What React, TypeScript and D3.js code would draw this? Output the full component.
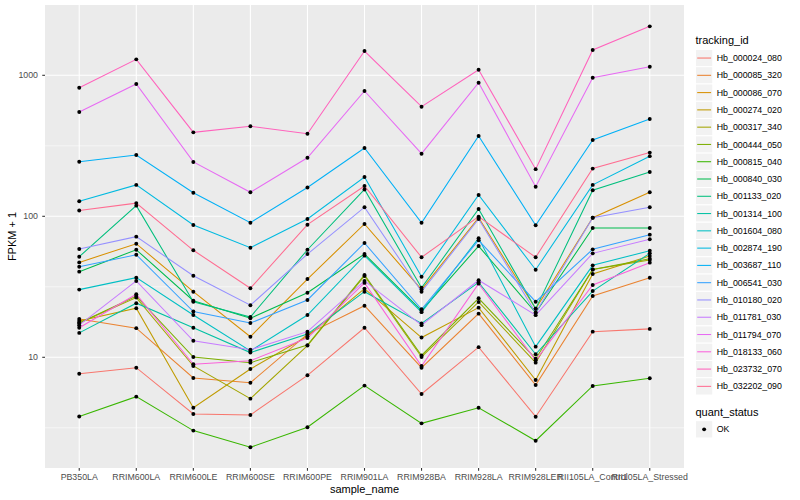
import React from 'react';
import * as d3 from 'd3';

// sample order on the x axis
const samples = ['PB350LA', 'RRIM600LA', 'RRIM600LE', 'RRIM600SE', 'RRIM600PE', 'RRIM901LA',
  'RRIM928BA', 'RRIM928LA', 'RRIM928LER', 'RII105LA_Control', 'RII105LA_Stressed'];

// FPKM + 1 per tracking id, one value per sample
const Hb_000024_080 = [7.65, 8.44, 3.96, 3.9, 7.45, 16.2, 5.49, 11.8, 3.79, 15.2, 15.9];
const Hb_000085_320 = [18.7, 16.1, 7.13, 6.6, 14.6, 23.2, 8.44, 20.4, 6.36, 27.2, 36.7];
const Hb_000086_070 = [47.1, 63.9, 29.2, 14.0, 35.9, 88.2, 30.2, 97.8, 22.1, 97.7, 148];
const Hb_000274_020 = [18.1, 22.3, 4.39, 8.26, 14.1, 30.7, 13.8, 22.5, 6.9, 39.0, 52.3];
const Hb_000317_340 = [17.5, 26.5, 8.68, 5.09, 12.1, 37.7, 10.05, 24.7, 9.16, 41.9, 48.9];
const Hb_000444_050 = [17.5, 27.2, 10.05, 9.16, 12.2, 38.4, 10.3, 26.2, 9.77, 41.9, 50.0];
const Hb_000815_040 = [3.8, 5.26, 3.02, 2.3, 3.19, 6.3, 3.4, 4.39, 2.56, 6.26, 7.1];
const Hb_000840_030 = [40.5, 57.9, 25.2, 18.9, 28.7, 54.0, 21.4, 61.5, 20.7, 82.6, 82.6];
const Hb_001133_020 = [51.7, 119, 24.8, 19.3, 57.9, 155, 31.1, 112.7, 22.1, 153, 206];
const Hb_001314_100 = [14.9, 24.2, 16.2, 10.8, 14.6, 29.2, 17.4, 34.0, 10.5, 29.5, 54.6];
const Hb_001604_080 = [30.2, 36.7, 19.95, 11.1, 19.95, 52.6, 20.9, 69.8, 11.9, 44.9, 57.0];
const Hb_002874_190 = [128, 167, 86.8, 59.9, 95.7, 190, 37.3, 141.6, 41.8, 167, 267];
const Hb_003687_110 = [244, 272, 147, 90.1, 160, 305, 90, 371, 86.3, 348, 490];
const Hb_006541_030 = [43.9, 53.4, 21.1, 17.5, 25.5, 64.7, 21.9, 67.6, 24.8, 58.3, 74.1];
const Hb_010180_020 = [58.6, 71.7, 37.9, 23.4, 54.0, 116, 29.2, 95.7, 20.7, 97.7, 116];
const Hb_011781_030 = [16.9, 34.8, 13.1, 11.3, 15.2, 34.8, 16.9, 35.2, 19.9, 54.6, 68.7];
const Hb_011794_070 = [549, 867, 243, 148, 260, 774, 278, 886, 162, 961, 1151];
const Hb_018133_060 = [16.2, 28.0, 8.92, 9.46, 13.7, 33.7, 8.68, 33.3, 9.52, 32.6, 46.9];
const Hb_023732_070 = [817, 1298, 394, 435, 385, 1487, 599, 1096, 216, 1512, 2225];
const Hb_032202_090 = [110, 124, 57.4, 30.9, 87.2, 164, 51.2, 99.4, 51.2, 218, 283];

const trackingIds = ['Hb_000024_080', 'Hb_000085_320', 'Hb_000086_070', 'Hb_000274_020', 'Hb_000317_340',
  'Hb_000444_050', 'Hb_000815_040', 'Hb_000840_030', 'Hb_001133_020', 'Hb_001314_100', 'Hb_001604_080',
  'Hb_002874_190', 'Hb_003687_110', 'Hb_006541_030', 'Hb_010180_020', 'Hb_011781_030', 'Hb_011794_070',
  'Hb_018133_060', 'Hb_023732_070', 'Hb_032202_090'];

const seriesValues = [Hb_000024_080, Hb_000085_320, Hb_000086_070, Hb_000274_020, Hb_000317_340,
  Hb_000444_050, Hb_000815_040, Hb_000840_030, Hb_001133_020, Hb_001314_100, Hb_001604_080,
  Hb_002874_190, Hb_003687_110, Hb_006541_030, Hb_010180_020, Hb_011781_030, Hb_011794_070,
  Hb_018133_060, Hb_023732_070, Hb_032202_090];

const yTicks = [10, 100, 1000];
const yMinor = [Math.sqrt(10), Math.sqrt(1000), Math.sqrt(100000)];
const statusLevels = ['OK'];

// ggplot default hue palette for 20 levels
const hue = ['#F8766D', '#EA8331', '#D89000', '#C09B00', '#A3A500', '#7CAE00', '#39B600', '#00BB4E',
  '#00BF7D', '#00C1A3', '#00BFC4', '#00BAE0', '#00B0F6', '#35A2FF', '#9590FF', '#C77CFF', '#E76BF3',
  '#FA62DB', '#FF62BC', '#FF6C91'];

const W = 800, H = 500;
const panel = { left: 45, right: 684, top: 5, bottom: 468 };
const font = '"Liberation Sans", Arial, Helvetica, sans-serif';

const App = () => {
  const x = d3.scalePoint<string>().domain(samples).range([panel.left, panel.right]).padding(0.6);
  const y = d3.scaleLog().domain([1.64, 3152]).range([panel.bottom, panel.top]);
  const color = d3.scaleOrdinal<string, string>().domain(trackingIds).range(hue);

  const line = d3.line<number>()
    .x((_, i) => x(samples[i]) as number)
    .y((d) => y(d));

  const keySize = 17.28;
  const legX = 695.5;
  const legTop = 49.4;

  return (
    <svg width={W} height={H} style={{ position: 'absolute', left: 0, top: 0, background: '#fff' }}
      fontFamily={font}>
      <rect x={0} y={0} width={W} height={H} fill="#fff" />
      {/* panel */}
      <rect x={panel.left} y={panel.top} width={panel.right - panel.left} height={panel.bottom - panel.top} fill="#EBEBEB" />
      {yMinor.filter((v) => y(v) > panel.top).map((v) => (
        <line key={'mn' + v} x1={panel.left} x2={panel.right} y1={y(v)} y2={y(v)} stroke="#fff" strokeWidth={0.55} />
      ))}
      {yTicks.map((v) => (
        <line key={'mj' + v} x1={panel.left} x2={panel.right} y1={y(v)} y2={y(v)} stroke="#fff" strokeWidth={1.07} />
      ))}
      {samples.map((s) => (
        <line key={'gx' + s} x1={x(s)} x2={x(s)} y1={panel.top} y2={panel.bottom} stroke="#fff" strokeWidth={1.07} />
      ))}

      {/* lines */}
      {seriesValues.map((vals, i) => (
        <path key={'l' + i} d={line(vals) || ''} fill="none" stroke={color(trackingIds[i])} strokeWidth={1.05} />
      ))}
      {/* points */}
      {seriesValues.map((vals, i) =>
        vals.map((v, j) => (
          <circle key={'p' + i + '-' + j} cx={x(samples[j])} cy={y(v)} r={1.95} fill="#000" />
        ))
      )}

      {/* y axis */}
      {yTicks.map((v) => (
        <g key={'yt' + v}>
          <line x1={panel.left - 2.75} x2={panel.left} y1={y(v)} y2={y(v)} stroke="#333" strokeWidth={1.07} />
          <text x={panel.left - 7} y={y(v)} dy="0.35em" textAnchor="end" fontSize={8.8} fill="#4D4D4D">{v}</text>
        </g>
      ))}
      {/* x axis */}
      {samples.map((s) => (
        <g key={'xt' + s}>
          <line x1={x(s)} x2={x(s)} y1={panel.bottom} y2={panel.bottom + 2.75} stroke="#333" strokeWidth={1.07} />
          <text x={x(s)} y={480} textAnchor="middle" fontSize={8.8} fill="#4D4D4D">{s}</text>
        </g>
      ))}
      <text x={(panel.left + panel.right) / 2} y={493} textAnchor="middle" fontSize={11} fill="#000">sample_name</text>
      <text transform={`translate(16,${(panel.top + panel.bottom) / 2}) rotate(-90)`} textAnchor="middle" fontSize={11} fill="#000">FPKM + 1</text>

      {/* legend: tracking_id */}
      <text x={legX} y={44} fontSize={11} fill="#000">tracking_id</text>
      {trackingIds.map((id, i) => {
        const ky = legTop + i * keySize;
        return (
          <g key={'lg' + id}>
            <rect x={legX} y={ky} width={keySize} height={keySize} fill="#F2F2F2" stroke="#fff" strokeWidth={1} />
            <line x1={legX + 1.7} x2={legX + keySize - 1.7} y1={ky + keySize / 2} y2={ky + keySize / 2}
              stroke={color(id)} strokeWidth={1.05} />
            <text x={legX + keySize + 4} y={ky + keySize / 2} dy="0.35em" fontSize={8.8} fill="#000">{id}</text>
          </g>
        );
      })}

      {/* legend: quant_status */}
      <text x={legX} y={416} fontSize={11} fill="#000">quant_status</text>
      {statusLevels.map((s, i) => {
        const ky = 420.7 + i * keySize;
        return (
          <g key={'qs' + s}>
            <rect x={legX} y={ky} width={keySize} height={keySize} fill="#F2F2F2" stroke="#fff" strokeWidth={1} />
            <circle cx={legX + keySize / 2} cy={ky + keySize / 2} r={1.95} fill="#000" />
            <text x={legX + keySize + 4} y={ky + keySize / 2} dy="0.35em" fontSize={8.8} fill="#000">{s}</text>
          </g>
        );
      })}
    </svg>
  );
};

export default App;
